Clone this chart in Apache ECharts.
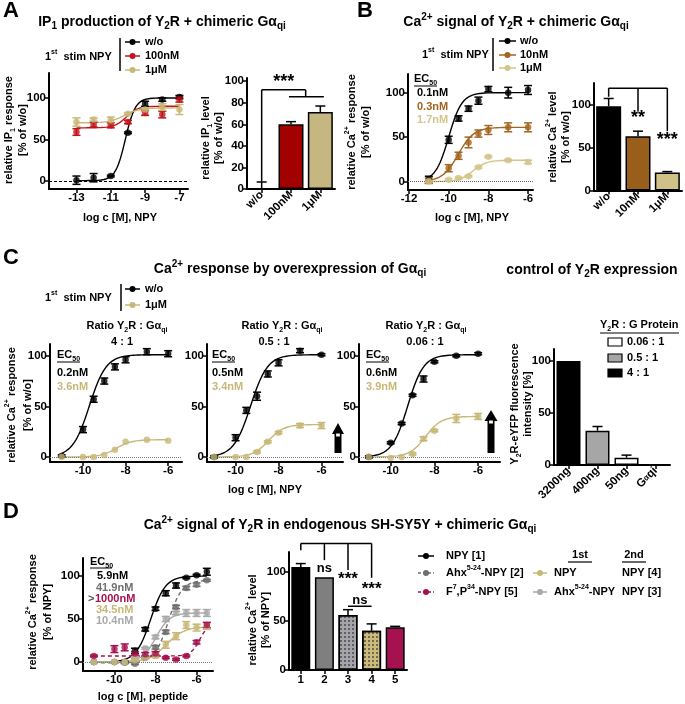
<!DOCTYPE html>
<html><head><meta charset="utf-8">
<script src="https://cdn.jsdelivr.net/npm/echarts@6/dist/echarts.min.js"></script>
<style>html,body{margin:0;padding:0;background:#fff}#c{width:685px;height:704px}</style>
</head><body><div id="c"></div><script>
// ================= DATA =================
// Panel A – IP1 concentration-response (log c [M])
const A_logc = [-13,-12,-11,-10,-9,-8,-7];
const A_wo = [1,4,6,58,93,98,101];
const A_wo_err = [5,5,1,1,3,2,2];
const A_100nM = [59,68,67,71,82,80,98];
const A_100nM_err = [4,3,3,2,3,4,3];
const A_1uM = [71,74,73,81,86,89,86];
const A_1uM_err = [5,2,4,1,2,4,6];
// fit parameters [bottom, top, logEC50, hill]
const A_fit_wo = [0.5,100,-10.15,1.5];
const A_fit_100nM = [64,90,-10.1,1.3];
const A_fit_1uM = [70,88,-10.2,1.0];
const A_barCats = ['w/o','100nM','1μM'];
const A_barVals = [0.5,60,71.5];
const A_barErr = [6,2.5,5.5];

// Panel B – Ca2+ signal
const B_logc = [-11,-10,-9.5,-9,-8.5,-8,-7,-6];
const B_wo = [2,47,71,82,91,104,100,103];
const B_wo_err = [4,4,3,3,4,3,6,5];
const B_10nM = [1,15,29,44,54,58,61,61];
const B_10nM_err = [3,4,4,6,4,5,5,5];
const B_1uM = [0,2,4,6,16,28,24,22];
const B_1uM_err = [1,1,1,1,1,1,1,2];
const B_fit_wo = [0,100,-10.0,1.3];
const B_fit_10nM = [0,61,-9.52,1.1];
const B_fit_1uM = [0,24,-8.77,1.3];
const B_barCats = ['w/o','10nM','1μM'];
const B_barVals = [98,63,21];
const B_barErr = [9,6,1];

// Panel C – Ca2+ response with Gaqi overexpression
const C_logc = [-11,-10,-9.5,-9,-8.5,-8,-7,-6];
const C1_wo = [1,27,57,75,89,96,104,102];
const C1_wo_err = [1,3,3,3,3,3,3,3];
const C1_1uM = [0,0,0,2,7,15,17,16];
const C1_1uM_err = [0,0,0,0,0,0,0,0];
const C2_wo = [0,19,46,60,82,93,105,101];
const C2_wo_err = [1,3,3,4,3,3,2,1];
const C2_1uM = [0,0,0,5,15,24,31,31];
const C2_1uM_err = [0,0,0,1,1,1,2,3];
const C3_wo = [0,14,33,61,77,94,100,102];
const C3_wo_err = [1,1,1,1,3,1,1,1];
const C3_1uM = [0,-1,0,3,18,26,38,40];
const C3_1uM_err = [0,0,0,1,2,1,4,3];
const C1_fit_wo = [0,101,-9.7,1.1],  C1_fit_1uM = [0,17,-8.44,1.2];
const C2_fit_wo = [0,101,-9.3,1.1],  C2_fit_1uM = [0,32,-8.47,1.2];
const C3_fit_wo = [0,101,-9.22,1.2], C3_fit_1uM = [0,40,-8.41,1.2];
const C_barCats = ['3200ng','400ng','50ng','Gαqi'];
const C_barVals = [100,33,7,0];
const C_barErr = [0,4,2.5,0];

// Panel D – SH-SY5Y
const D_logc = [-11,-10,-9.5,-9,-8.5,-8,-7.5,-7,-6.5,-6,-5.5];
const D_NPY = [0,0,0,13,38,62,80,89,98,101,105];
const D_NPY_err = [0,0,1,3,2,2,3,3,1,1,4];
const D_Ahx = [0,0,-1,-2,5,17,35,64,86,90,95];
const D_Ahx_err = [0,0,1,1,1,2,2,2,2,2,1];
const D_AhxNPY = [0,0,0,5,16,29,50,57,57,57,57];
const D_AhxNPY_err = [0,0,0,1,1,2,3,2,4,4,4];
const D_NPYNPY = [0,0,0,2,5,7,20,30,43,40,42];
const D_NPYNPY_err = [0,0,0,1,1,2,4,4,4,4,4];
const D_F7P34 = [7,15,17,10,9,10,5,3,7,23,43];
const D_F7P34_err = [1,4,4,2,2,2,1,1,1,2,3];
const D_fit_NPY = [0,100,-8.23,1.2];
const D_fit_Ahx = [-1,95,-7.38,1.3];
const D_fit_AhxNPY = [0,57,-7.98,1.3];
const D_fit_NPYNPY = [0,41,-7.46,1.0];
const D_fit_F7P34 = [7,45,-5.85,2.0];
const D_barCats = ['1','2','3','4','5'];
const D_barVals = [105,94.5,56,40,43.5];
const D_barErr = [3.5,0,5.5,7,1];

// ================= STYLE =================
const FONT = '"Liberation Sans", Arial, Helvetica, sans-serif';
const BLACK='#000', RED='#c1141c', REDBAR='#a30000', TAN='#c8b878', TANBAR='#c6b67f',
      BROWN='#a2641f', BROWNBAR='#9a5e1c', LTAN='#d3c58b', LTANBAR='#cfc188',
      MAG='#a5124f', DGREY='#6f6f6f', LGREY='#a9a9a9';

function fitCurve(p, x0, x1){
  const pts=[], n=150;
  for(let i=0;i<=n;i++){const x=x0+(x1-x0)*i/n; pts.push([x, p[0]+(p[1]-p[0])/(1+Math.pow(10,(p[2]-x)*p[3]))]);}
  return pts;
}
function richFor(size,color){
  const s=Math.round(size*0.68);
  const base={fontFamily:FONT,fontWeight:'bold',color:color,fill:color};
  return {
    n:Object.assign({fontSize:size,lineHeight:size+5},base),
    sub:Object.assign({fontSize:s,lineHeight:s+1,verticalAlign:'bottom'},base),
    sup:Object.assign({fontSize:s,lineHeight:s+1,verticalAlign:'top'},base)
  };
}
function markup(s){
  return '{n|'+s.replace(/_\{([^}]*)\}/g,'}{sub|$1}{n|').replace(/\^\{([^}]*)\}/g,'}{sup|$1}{n|')+'}';
}
const G=[];
function txt(x,y,s,o){
  o=o||{}; const size=o.size||11, color=o.color||'#000';
  G.push({type:'text',x:x,y:y,rotation:o.rot||0,z:100,silent:true,
    style:{text:markup(s),rich:richFor(size,color),fill:color,
      align:o.align||'left',textAlign:o.align||'left',verticalAlign:'middle',textVerticalAlign:'middle'}});
}
function vtxt(x,y,s,o){ o=o||{}; o.rot=Math.PI/2; o.align='center'; txt(x,y,s,o); }
function ln(x1,y1,x2,y2,w,color,dash){
  G.push({type:'line',z:100,silent:true,shape:{x1,y1,x2,y2},style:{stroke:color||'#000',lineWidth:w||1.5,lineDash:dash||null}});
}
function marker(x1,x2,y,color,dash){
  ln(x1,y,x2,y,1.5,color,dash);
  G.push({type:'circle',z:101,silent:true,shape:{cx:(x1+x2)/2,cy:y,r:3},style:{fill:color}});
}
function rect(x,y,w,h,fill){ G.push({type:'rect',z:100,silent:true,shape:{x,y,width:w,height:h},style:{fill:fill,stroke:'#000',lineWidth:1.2}}); }
function arrow(cx, top, headBase, bottom, hw, sw){
  G.push({type:'polygon',z:100,silent:true,shape:{points:[[cx-hw,headBase],[cx,top],[cx+hw,headBase]]},style:{fill:'#000'}});
  G.push({type:'rect',z:100,silent:true,shape:{x:cx-sw,y:headBase-0.5,width:sw*2,height:bottom-headBase+0.5},style:{fill:'#000'}});
  G.push({type:'rect',z:101,silent:true,shape:{x:cx-sw+1.6,y:headBase-0.5,width:sw*2-3.2,height:3},style:{fill:'#fff'}});
}

// ================= GRIDS / AXES =================
const grids=[
  {left:49,top:73,width:139,height:116},   //0 A line
  {left:247,top:78,width:88,height:111},   //1 A bar
  {left:408,top:74,width:125,height:116},  //2 B line
  {left:594,top:83,width:88,height:107.5}, //3 B bar
  {left:50,top:344,width:132,height:118},  //4 C1
  {left:207,top:344,width:136,height:118}, //5 C2
  {left:359,top:344,width:141,height:118}, //6 C3
  {left:554,top:349,width:116,height:116}, //7 C bar
  {left:83,top:558,width:130,height:113},  //8 D line
  {left:289,top:552,width:118,height:118}  //9 D bar
];
function vAxis(gi,min,max,ticks){
  return {type:'value',gridIndex:gi,min:min,max:max,
    axisLine:{show:true,onZero:false,lineStyle:{color:'#000',width:2}},
    axisTick:{show:true,length:4,customValues:ticks,lineStyle:{color:'#000',width:1.5}},
    axisLabel:{show:true,customValues:ticks,color:'#000',fontFamily:FONT,fontWeight:'bold',fontSize:11.5,margin:3},
    splitLine:{show:false}};
}
function cAxis(gi,cats,rot,rich){
  const a={type:'category',gridIndex:gi,data:cats,
    axisLine:{show:true,onZero:false,lineStyle:{color:'#000',width:2}},
    axisTick:{show:true,alignWithLabel:true,length:4,lineStyle:{color:'#000',width:1.5}},
    axisLabel:{interval:0,rotate:rot,color:'#000',fontFamily:FONT,fontWeight:'bold',fontSize:11.5,margin:4}};
  if(rich){a.axisLabel.formatter=v=>v==='Gαqi'?'{n|G}{s|α}{n|qi}':'{n|'+v+'}';
    a.axisLabel.rich={n:{fontFamily:FONT,fontWeight:'bold',fontSize:11.5,color:'#000'},s:{fontFamily:FONT,fontWeight:'bold',fontSize:8,color:'#000'}};}
  return a;
}
const xAxes=[
  vAxis(0,-14.6,-6.5,[-13,-11,-9,-7]),
  cAxis(1,A_barCats,45),
  vAxis(2,-12.05,-5.75,[-12,-10,-8,-6]),
  cAxis(3,B_barCats,45),
  vAxis(4,-11.55,-5.35,[-10,-8,-6]),
  vAxis(5,-11.33,-5.0,[-10,-8,-6]),
  vAxis(6,-11.45,-5.0,[-10,-8,-6]),
  cAxis(7,C_barCats,45,true),
  vAxis(8,-11.53,-5.2,[-10,-8,-6]),
  cAxis(9,D_barCats,0)
];
const yAxes=[
  vAxis(0,-9.6,130,[0,50,100]),
  vAxis(1,0,103,[0,20,40,60,80,100]),
  vAxis(2,-9.5,121,[0,50,100]),
  vAxis(3,0,125,[0,50,100]),
  vAxis(4,-5,111.6,[0,50,100]),
  vAxis(5,-5,111.6,[0,50,100]),
  vAxis(6,-5,111.6,[0,50,100]),
  vAxis(7,0,111.5,[0,50,100]),
  vAxis(8,-10.5,121,[0,50,100]),
  vAxis(9,0,120.3,[0,50,100])
];

// ================= SERIES =================
const S=[];
function errSeries(gi,xs,ys,es,color,up){
  return {type:'custom',xAxisIndex:gi,yAxisIndex:gi,silent:true,z:5,clip:false,animation:false,
    data:xs.map((x,i)=>[x,up?ys[i]:ys[i]-es[i],ys[i]+es[i],es[i]]),encode:{x:0,y:1},
    renderItem:(p,api)=>{
      if(api.value(3)<=0) return null;
      const lo=api.coord([api.value(0),api.value(1)]), hi=api.coord([api.value(0),api.value(2)]), w=up?5:4;
      const ch=[{type:'line',shape:{x1:lo[0],y1:lo[1],x2:hi[0],y2:hi[1]},style:{stroke:color,lineWidth:1.5}},
        {type:'line',shape:{x1:hi[0]-w,y1:hi[1],x2:hi[0]+w,y2:hi[1]},style:{stroke:color,lineWidth:1.5}}];
      if(!up) ch.push({type:'line',shape:{x1:lo[0]-w,y1:lo[1],x2:lo[0]+w,y2:lo[1]},style:{stroke:color,lineWidth:1.5}});
      return {type:'group',children:ch};
    }};
}
function curveGroup(gi,xs,ys,es,fit,color,x0,x1,dash,zero){
  const line={type:'line',xAxisIndex:gi,yAxisIndex:gi,data:fitCurve(fit,x0,x1),showSymbol:false,symbol:'none',
    lineStyle:{color:color,width:1.4,type:dash?[4,3]:'solid'},z:3,silent:true,animation:false};
  if(zero) line.markLine={silent:true,symbol:'none',animation:false,label:{show:false},
      lineStyle:{color:zero.color,type:zero.type,width:1},data:[{yAxis:0}]};
  S.push(line);
  S.push(errSeries(gi,xs,ys,es,color,false));
  S.push({type:'scatter',xAxisIndex:gi,yAxisIndex:gi,data:xs.map((x,i)=>[x,ys[i]]),symbol:'circle',symbolSize:6.5,
    itemStyle:{color:color},z:6,silent:true,animation:false});
}
function barGroup(gi,vals,errs,colors,bw,decals){
  S.push({type:'bar',xAxisIndex:gi,yAxisIndex:gi,barWidth:bw,z:2,silent:true,animation:false,
    data:vals.map((v,i)=>({value:v,itemStyle:{color:colors[i],borderColor:'#000',borderWidth:1.5,
      decal:decals&&decals[i]?decals[i]:null}}))});
  S.push(errSeries(gi,vals.map((v,i)=>i),vals,errs,'#000',true));
}
function catPt(api,x,y){
  const i=Math.floor(x), f=x-i, a=api.coord([i,y]);
  if(f===0) return a;
  const b=api.coord([i+1,y]); return [a[0]+(b[0]-a[0])*f,a[1]];
}
function bracketSeries(gi,segs){
  return {type:'custom',xAxisIndex:gi,yAxisIndex:gi,silent:true,z:10,clip:false,animation:false,
    data:segs,encode:{x:0,y:1},
    renderItem:(p,api)=>{const a=catPt(api,api.value(0),api.value(1)), b=catPt(api,api.value(2),api.value(3));
      return {type:'line',shape:{x1:a[0],y1:a[1],x2:b[0],y2:b[1]},style:{stroke:'#000',lineWidth:1.5}};}};
}
function labelSeries(gi,pts,texts,sizes){
  return {type:'custom',xAxisIndex:gi,yAxisIndex:gi,silent:true,z:10,clip:false,animation:false,
    data:pts,encode:{x:0,y:1},
    renderItem:(p,api)=>{const a=catPt(api,api.value(0),api.value(1));
      return {type:'text',x:a[0],y:a[1],style:{text:texts[p.dataIndex],font:'bold '+sizes[p.dataIndex]+'px '+FONT,fill:'#000',
        align:'center',textAlign:'center',verticalAlign:'middle',textVerticalAlign:'middle'}};}};
}

// A
curveGroup(0,A_logc,A_wo,A_wo_err,A_fit_wo,BLACK,-13,-7,false,{color:'#000',type:[3,2]});
curveGroup(0,A_logc,A_100nM,A_100nM_err,A_fit_100nM,RED,-13,-7);
curveGroup(0,A_logc,A_1uM,A_1uM_err,A_fit_1uM,TAN,-13,-7);
barGroup(1,A_barVals,A_barErr,['#000',REDBAR,TANBAR],25);
S.push(bracketSeries(1,[[0,7,0,92],[0,92,1.5,92],[1.5,92,1.5,85.5],[0.93,85.5,2.12,85.5]]));
S.push(labelSeries(1,[[0.75,99]],['***'],[18]));
// B
curveGroup(2,B_logc,B_wo,B_wo_err,B_fit_wo,BLACK,-11,-6,false,{color:'#666',type:'dotted'});
curveGroup(2,B_logc,B_10nM,B_10nM_err,B_fit_10nM,BROWN,-11,-6);
curveGroup(2,B_logc,B_1uM,B_1uM_err,B_fit_1uM,LTAN,-11,-6);
barGroup(3,B_barVals,B_barErr,['#000',BROWNBAR,LTANBAR],25);
S.push(bracketSeries(3,[[0,109,0,119],[0,119,2,119],[1,119,1,92],[2,119,2,69]]));
S.push(labelSeries(3,[[1,84],[2,59]],['**','***'],[18,18]));
// C
curveGroup(4,C_logc,C1_wo,C1_wo_err,C1_fit_wo,BLACK,-11,-6,false,{color:'#777',type:'dotted'});
curveGroup(4,C_logc,C1_1uM,C1_1uM_err,C1_fit_1uM,TAN,-11,-6);
curveGroup(5,C_logc,C2_wo,C2_wo_err,C2_fit_wo,BLACK,-11,-6,false,{color:'#777',type:'dotted'});
curveGroup(5,C_logc,C2_1uM,C2_1uM_err,C2_fit_1uM,TAN,-11,-6);
curveGroup(6,C_logc,C3_wo,C3_wo_err,C3_fit_wo,BLACK,-11,-6,false,{color:'#777',type:'dotted'});
curveGroup(6,C_logc,C3_1uM,C3_1uM_err,C3_fit_1uM,TAN,-11,-6);
barGroup(7,C_barVals,C_barErr,['#000','#a6a6a6','#fff','#fff'],24);
// D
curveGroup(8,D_logc,D_NPY,D_NPY_err,D_fit_NPY,BLACK,-11,-5.5,false,{color:'#777',type:'dotted'});
curveGroup(8,D_logc,D_Ahx,D_Ahx_err,D_fit_Ahx,DGREY,-11,-5.5,true);
curveGroup(8,D_logc,D_AhxNPY,D_AhxNPY_err,D_fit_AhxNPY,LGREY,-11,-5.5);
curveGroup(8,D_logc,D_NPYNPY,D_NPYNPY_err,D_fit_NPYNPY,TAN,-11,-5.5);
curveGroup(8,D_logc,D_F7P34,D_F7P34_err,D_fit_F7P34,MAG,-11,-5.5,true);
const dots={symbol:'rect',symbolSize:1,dashArrayX:[1.2,1.8],dashArrayY:[1.2,1.8],color:'rgba(40,40,40,0.55)'};
barGroup(9,D_barVals,D_barErr,['#000','#7f7f7f','#a4a4aa','#cbbb7c',MAG],19,[null,null,dots,dots,null]);
S.push(bracketSeries(9,[[0,122,0,129],[0,129,3,129],[1,129,1,112],[2,129,2,102],[3,129,3,94],[2,65,3,65]]));
S.push(labelSeries(9,[[1,104],[2,92],[3,82],[2.5,71]],['ns','***','***','ns'],[13,17,17,13]));

// ================= TEXT / LEGENDS =================
// A
txt(3,11,'A',{size:22});
txt(162,22,'IP_{1} production of Y_{2}R + chimeric Gα_{qi}',{size:14,align:'center'});
txt(45,57,'1^{st}  stim NPY');
ln(120,38,120,71,1.5);
marker(125,140,42,BLACK); txt(145,42,'w/o');
marker(125,140,56,RED); txt(145,56,'100nM');
marker(125,140,70,TAN); txt(145,70,'1μM');
vtxt(9,130,'relative IP_{1} response'); vtxt(23,130,'[% of w/o]');
txt(120,218,'log c [M], NPY',{align:'center'});
vtxt(206,138,'relative IP_{1} level'); vtxt(219,138,'[% of w/o]');
// B
txt(357,11,'B',{size:22});
txt(516,22,'Ca^{2+} signal of Y_{2}R + chimeric Gα_{qi}',{size:14,align:'center'});
txt(422,55,'1^{st}  stim NPY');
ln(493,38,493,71,1.5);
marker(499,516,41,BLACK); txt(520,41,'w/o');
marker(499,516,55,BROWN); txt(520,55,'10nM');
marker(499,516,68,LTAN); txt(520,68,'1μM');
txt(414,79,'EC_{50}'); ln(414,86,437,86,1);
txt(417,93,'0.1nM'); txt(417,107,'0.3nM',{color:BROWN}); txt(417,120,'1.7nM',{color:LTAN});
vtxt(352,132,'relative Ca^{2+} response'); vtxt(366,132,'[% of w/o]');
txt(472,218,'log c [M], NPY',{align:'center'});
vtxt(553,137,'relative Ca^{2+} level'); vtxt(566,137,'[% of w/o]');
// C
txt(3,258,'C',{size:22});
txt(290,269,'Ca^{2+} response by overexpression of Gα_{qi}',{size:14,align:'center'});
txt(592,270,'control of Y_{2}R expression',{size:14,align:'center'});
txt(45,298,'1^{st}  stim NPY');
ln(121,284,121,311,1.5);
marker(125,140,289,BLACK); txt(145,289,'w/o');
marker(125,140,305,TAN); txt(145,305,'1μM');
[[127,122,'4 : 1',57,'0.2nM','3.6nM'],[282,274,'0.5 : 1',212,'0.5nM','3.4nM'],[426,425,'0.06 : 1',366,'0.6nM','3.9nM']].forEach(r=>{
  txt(r[0],326,'Ratio Y_{2}R : Gα_{qi}',{align:'center'});
  txt(r[1],342,r[2],{align:'center'});
  txt(r[3],355,'EC_{50}'); ln(r[3],362,r[3]+23,362,1);
  txt(r[3],373,r[4]); txt(r[3],387,r[5],{color:TAN});
});
vtxt(12,405,'relative Ca^{2+} response'); vtxt(28,405,'[% of w/o]');
txt(265,490,'log c [M], NPY',{align:'center'});
arrow(338,423,434,453,6,3.5);
arrow(491,410,421,453,6.5,3.5);
vtxt(515,404,'Y_{2}R-eYFP fluorescence'); vtxt(528,404,'intensity [%]');
txt(600,325,'Y_{2}R : G Protein'); ln(600,333,679,333,1);
rect(608,338,14,8,'#fff'); txt(627,342,'0.06 : 1');
rect(608,354,14,8,'#a6a6a6'); txt(627,358,'0.5 : 1');
rect(608,369,14,8,'#000'); txt(627,373,'4 : 1');
// D
txt(3,512,'D',{size:22});
txt(340,525,'Ca^{2+} signal of Y_{2}R in endogenous SH-SY5Y + chimeric Gα_{qi}',{size:14,align:'center'});
txt(90,562,'EC_{50}'); ln(90,568,112,568,1);
txt(97,576,'5.9nM'); txt(96,588,'41.9nM',{color:DGREY});
txt(88,599,'>',{color:'#555'}); txt(95,599,'1000nM',{color:MAG});
txt(96,610,'34.5nM',{color:TAN}); txt(96,621,'10.4nM',{color:LGREY});
vtxt(33,612,'relative Ca^{2+} response'); vtxt(48,612,'[% of NPY]');
txt(143,697,'log c [M], peptide',{align:'center'});
vtxt(253,620,'relative Ca^{2+} level'); vtxt(266,620,'[% of NPY]');
marker(418,434,556,BLACK); txt(446,556,'NPY [1]');
marker(418,434,573,DGREY,[3,2]); txt(446,573,'Ahx^{5-24}-NPY [2]');
marker(418,434,592,MAG,[3,2]); txt(446,592,'F^{7},P^{34}-NPY [5]');
txt(580,555,'1st',{align:'center'}); ln(568,562,592,562,1.2);
txt(634,555,'2nd',{align:'center'}); ln(622,562,646,562,1.2);
marker(533,547,573,TAN); txt(554,573,'NPY'); txt(622,573,'NPY [4]');
marker(533,547,592,LGREY); txt(554,592,'Ahx^{5-24}-NPY'); txt(622,592,'NPY [3]');

const chart=echarts.init(document.getElementById('c'),null,{renderer:'canvas',width:685,height:704});
chart.setOption({animation:false,backgroundColor:'#fff',grid:grids,xAxis:xAxes,yAxis:yAxes,series:S,graphic:{elements:G}});
</script></body></html>
